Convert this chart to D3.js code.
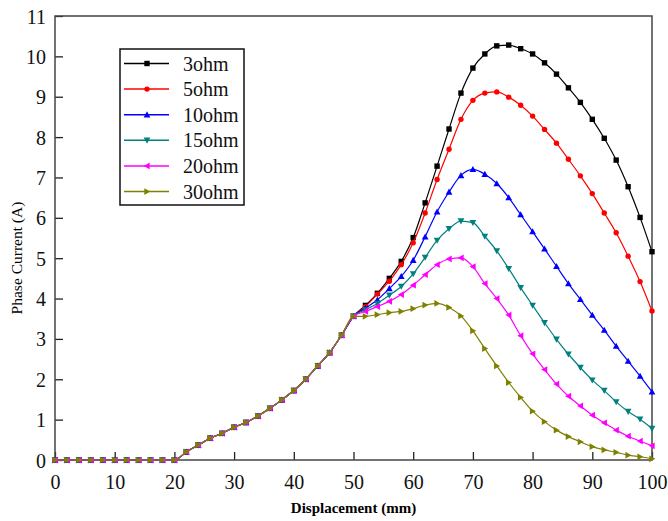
<!DOCTYPE html>
<meta charset="utf-8">
<style>
body { margin: 0; background: #fff; }
.tick text { font-family: "Liberation Serif", serif; font-size: 20px; fill: #111; }
</style>
<body>
<script src="https://d3js.org/d3.v7.min.js"></script>
<script>

// displacement (mm)
var disp = [0, 2, 4, 6, 8, 10, 12, 14, 16, 18, 20, 22, 24, 26, 28, 30, 32, 34, 36, 38, 40,
  42, 44, 46, 48, 50, 52, 54, 56, 58, 60, 62, 64, 66, 68, 70, 72, 74, 76, 78, 80,
  82, 84, 86, 88, 90, 92, 94, 96, 98, 100];

// phase current (A) per load resistance
var ohm3 = [0, 0, 0, 0, 0, 0, 0, 0, 0, 0, 0, 0.2, 0.37, 0.54, 0.66, 0.81, 0.93, 1.09, 1.28, 1.49, 1.72,
  2.0, 2.33, 2.66, 3.09, 3.56, 3.83, 4.13, 4.50, 4.92, 5.51, 6.37, 7.28, 8.2, 9.09, 9.71, 10.06,
  10.26, 10.28, 10.19, 10.06, 9.84, 9.56, 9.22, 8.86, 8.44, 7.97, 7.43, 6.77, 6.01, 5.16];
var ohm5 = [0, 0, 0, 0, 0, 0, 0, 0, 0, 0, 0, 0.2, 0.37, 0.54, 0.66, 0.81, 0.93, 1.09, 1.28, 1.49, 1.72,
  2.0, 2.33, 2.66, 3.09, 3.56, 3.80, 4.11, 4.43, 4.84, 5.38, 6.12, 6.95, 7.70, 8.44, 8.91, 9.09,
  9.12, 8.99, 8.79, 8.52, 8.19, 7.85, 7.45, 7.04, 6.60, 6.12, 5.63, 5.05, 4.42, 3.69];
var ohm10 = [0, 0, 0, 0, 0, 0, 0, 0, 0, 0, 0, 0.2, 0.37, 0.54, 0.66, 0.81, 0.93, 1.09, 1.28, 1.49, 1.72,
  2.0, 2.33, 2.66, 3.09, 3.56, 3.76, 3.97, 4.25, 4.55, 4.95, 5.53, 6.15, 6.64, 7.05, 7.20, 7.08,
  6.85, 6.50, 6.08, 5.66, 5.23, 4.80, 4.37, 3.98, 3.59, 3.22, 2.82, 2.45, 2.08, 1.69];
var ohm15 = [0, 0, 0, 0, 0, 0, 0, 0, 0, 0, 0, 0.2, 0.37, 0.54, 0.66, 0.81, 0.93, 1.09, 1.28, 1.49, 1.72,
  2.0, 2.33, 2.66, 3.09, 3.56, 3.72, 3.88, 4.08, 4.30, 4.61, 5.02, 5.44, 5.73, 5.92, 5.88, 5.54,
  5.18, 4.74, 4.27, 3.83, 3.40, 2.99, 2.62, 2.29, 1.98, 1.72, 1.44, 1.20, 1.01, 0.78];
var ohm20 = [0, 0, 0, 0, 0, 0, 0, 0, 0, 0, 0, 0.2, 0.37, 0.54, 0.66, 0.81, 0.93, 1.09, 1.28, 1.49, 1.72,
  2.0, 2.33, 2.66, 3.09, 3.56, 3.68, 3.80, 3.93, 4.10, 4.33, 4.59, 4.84, 4.98, 5.01, 4.79, 4.37,
  4.00, 3.59, 3.08, 2.63, 2.24, 1.88, 1.58, 1.34, 1.11, 0.92, 0.74, 0.59, 0.47, 0.35];
var ohm30 = [0, 0, 0, 0, 0, 0, 0, 0, 0, 0, 0, 0.2, 0.37, 0.54, 0.66, 0.81, 0.93, 1.09, 1.28, 1.49, 1.72,
  2.0, 2.33, 2.66, 3.09, 3.56, 3.56, 3.60, 3.65, 3.68, 3.75, 3.84, 3.88, 3.78, 3.57, 3.20, 2.76,
  2.33, 1.92, 1.55, 1.21, 0.95, 0.74, 0.58, 0.45, 0.33, 0.25, 0.19, 0.12, 0.08, 0.03];

var names = ["3ohm", "5ohm", "10ohm", "15ohm", "20ohm", "30ohm"];
var values = [ohm3, ohm5, ohm10, ohm15, ohm20, ohm30];
var xTicks = [0, 10, 20, 30, 40, 50, 60, 70, 80, 90, 100];
var yTicks = [0, 1, 2, 3, 4, 5, 6, 7, 8, 9, 10, 11];

var colors = ["#000000", "#ff0000", "#0000ff", "#008080", "#ff00ff", "#808000"];
// square, circle, up, down, left, right
var shapes = ["square", "circle", "up", "down", "left", "right"];

var margin = {top: 16, right: 16, bottom: 61, left: 55},
    width = 668 - margin.left - margin.right,
    height = 521 - margin.top - margin.bottom;

var x = d3.scaleLinear().domain([0, 100]).range([0, width]);
var y = d3.scaleLinear().domain([0, 11]).range([height, 0]);

var svg = d3.select("body").append("svg")
    .attr("width", 668)
    .attr("height", 521)
  .append("g")
    .attr("transform", "translate(" + margin.left + "," + margin.top + ")");

// axes, ticks pointing inward
var xAxis = svg.append("g")
    .attr("transform", "translate(0," + height + ")")
    .call(d3.axisBottom(x).tickValues(xTicks).tickSizeInner(-8).tickSizeOuter(0).tickPadding(15));
var yAxis = svg.append("g")
    .call(d3.axisLeft(y).tickValues(yTicks).tickSizeInner(-8).tickSizeOuter(0).tickPadding(9));
svg.selectAll(".domain").remove();
svg.selectAll(".tick line").attr("stroke", "#222").attr("stroke-width", 1.3);
yAxis.selectAll(".tick text").attr("dy", "0.35em");

// frame
svg.append("rect")
    .attr("width", width)
    .attr("height", height)
    .attr("fill", "none")
    .attr("stroke", "#444")
    .attr("stroke-width", 1.5);

function symbolPath(shape, s) {
  if (shape == "square") return "M" + (-s) + "," + (-s) + "h" + 2 * s + "v" + 2 * s + "h" + (-2 * s) + "Z";
  if (shape == "circle") return "M" + (-s) + ",0a" + s + "," + s + " 0 1,0 " + 2 * s + ",0a" + s + "," + s + " 0 1,0 " + (-2 * s) + ",0";
  var t = s * 1.25;
  if (shape == "up") return "M0," + (-t) + "L" + t + "," + t * 0.8 + "L" + (-t) + "," + t * 0.8 + "Z";
  if (shape == "down") return "M0," + t + "L" + t + "," + (-t * 0.8) + "L" + (-t) + "," + (-t * 0.8) + "Z";
  if (shape == "left") return "M" + (-t) + ",0L" + t * 0.8 + "," + (-t) + "L" + t * 0.8 + "," + t + "Z";
  return "M" + t + ",0L" + (-t * 0.8) + "," + (-t) + "L" + (-t * 0.8) + "," + t + "Z";
}

var line = d3.line()
    .x(function(d) { return x(d[0]); })
    .y(function(d) { return y(d[1]); })
    .curve(d3.curveMonotoneX);

values.forEach(function(vals, i) {
  var pts = disp.map(function(d, j) { return [d, vals[j]]; });
  svg.append("path")
      .datum(pts)
      .attr("fill", "none")
      .attr("stroke", colors[i])
      .attr("stroke-width", 1.2)
      .attr("d", line);
  svg.selectAll(".m" + i)
      .data(pts)
      .enter().append("path")
      .attr("class", "m" + i)
      .attr("transform", function(d) { return "translate(" + x(d[0]) + "," + y(d[1]) + ")"; })
      .attr("d", symbolPath(shapes[i], 2.7))
      .attr("fill", colors[i]);
});

// legend
var legend = svg.append("g").attr("transform", "translate(65,33)");
legend.append("rect")
    .attr("width", 124)
    .attr("height", 156)
    .attr("fill", "#fff")
    .attr("stroke", "#111")
    .attr("stroke-width", 1.5);
names.forEach(function(n, i) {
  var ly = 14.5 + i * 25.6;
  legend.append("line")
      .attr("x1", 4).attr("x2", 49)
      .attr("y1", ly).attr("y2", ly)
      .attr("stroke", colors[i]).attr("stroke-width", 1.5);
  legend.append("path")
      .attr("transform", "translate(27," + ly + ")")
      .attr("d", symbolPath(shapes[i], 2.7))
      .attr("fill", colors[i]);
  legend.append("text")
      .attr("x", 63).attr("y", ly)
      .attr("dy", "0.35em")
      .style("font-family", "Liberation Serif, serif")
      .style("font-size", "20px")
      .attr("fill", "#111")
      .text(n);
});

// axis titles
svg.append("text")
    .attr("x", width / 2)
    .attr("y", height + 53)
    .attr("text-anchor", "middle")
    .style("font-family", "Liberation Serif, serif")
    .style("font-size", "15px")
    .style("font-weight", "bold")
    .text("Displacement (mm)");
svg.append("text")
    .attr("transform", "translate(-33," + (height / 2 + 20) + ") rotate(-90)")
    .attr("text-anchor", "middle")
    .style("font-family", "Liberation Serif, serif")
    .style("font-size", "15.5px")
    .text("Phase Current (A)");

</script>
</body>
